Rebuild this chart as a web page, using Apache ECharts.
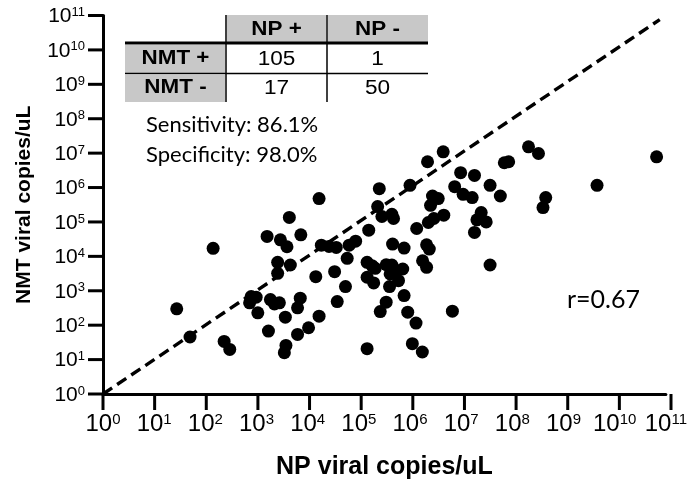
<!DOCTYPE html>
<html><head><meta charset="utf-8">
<script src="https://cdn.jsdelivr.net/npm/echarts@6/dist/echarts.min.js"></script>
<style>html,body{margin:0;padding:0;background:#fff}#c{width:690px;height:499px}</style>
</head><body><div id="c"></div>
<script>
// NP viral copies/uL (x) and NMT viral copies/uL (y)
const npValues = [
  1.67e4, 4.38e3, 1.42e2, 1.61e3, 2.93e3, 3.94e3, 7.35e3, 1.85e4, 2.61e4, 3.62e4,
  2.59e3, 4.58e3, 2.59e3, 1.44e4, 3.36e4, 5.48e4, 27.6, 7.87e2, 9.84e2, 7.33e2,
  1.06e3, 1.87e3, 2.24e3, 2.80e3, 3.66e3, 7.16e3, 6.34e3, 3.78e4, 1.67e4, 1.71e3,
  6.34e3, 1.04e4, 50.2, 2.33e2, 3.00e2, 3.76e3, 3.50e3, 2.07e8, 3.24e8, 6.59e10,
  4.45e6, 2.20e6, 6.97e7, 8.47e7, 1.00e6, 2.51e5, 9.75e6, 1.82e7, 7.46e6, 1.09e7,
  1.64e7, 3.67e7, 5.82e7, 4.52e9, 4.49e8, 3.97e8, 2.75e6, 3.56e6, 2.52e6, 4.57e6,
  2.92e6, 2.28e6, 1.35e6, 2.33e5, 2.82e5, 4.42e5, 4.76e5, 1.56e5, 2.46e7, 2.03e7,
  3.08e7, 1.82e7, 6.47e4, 8.65e4, 5.92e4, 4.56e5, 7.66e5, 2.11e6, 2.38e6, 1.76e6,
  2.11e6, 3.67e7, 1.45e5, 1.81e5, 2.09e5, 1.45e5, 1.95e5, 3.42e5, 4.42e5, 5.52e5,
  7.21e5, 4.09e5, 5.96e5, 3.98e5, 7.66e5, 3.42e5, 2.62e5, 9.02e5, 1.31e6, 6.73e6,
  1.45e5, 1.11e6, 1.74e6
];
const nmtValues = [
  4.78e5, 1.35e5, 1.71e4, 3.79e4, 3.02e4, 1.90e4, 4.22e4, 2.12e4, 1.95e4, 1.82e4,
  6.70e3, 5.60e3, 3.22e3, 2.57e3, 3.58e3, 1.32e3, 2.99e2, 6.78e2, 6.50e2, 4.45e2,
  2.29e2, 5.55e2, 4.16e2, 4.45e2, 1.71e2, 6.08e2, 3.19e2, 4.85e2, 1.83e2, 67.5,
  53.8, 84.1, 45.3, 33.7, 19.8, 25.8, 15.9, 1.53e7, 9.77e6, 7.83e6,
  1.09e7, 5.62e6, 5.26e6, 5.62e6, 1.16e6, 9.29e5, 2.70e6, 2.25e6, 1.06e6, 6.35e5,
  5.11e5, 1.16e6, 5.68e5, 1.16e6, 5.11e5, 2.62e5, 5.68e5, 4.78e5, 3.05e5, 1.57e5,
  1.26e5, 9.64e4, 6.46e4, 2.80e5, 1.44e5, 1.67e5, 1.26e5, 5.77e4, 1.88e5, 1.15e5,
  1.00e5, 4.95e4, 2.12e4, 2.77e4, 8.75e3, 2.27e4, 1.74e4, 2.17e4, 1.63e4, 7.46e3,
  4.81e3, 5.60e3, 6.70e3, 5.35e3, 4.50e3, 2.47e3, 1.69e3, 5.71e3, 5.60e3, 3.83e3,
  4.29e3, 3.08e3, 1.97e3, 1.32e3, 7.24e2, 4.67e2, 2.49e2, 2.39e2, 1.15e2, 2.56e2,
  20.7, 29.0, 16.6
];
// identity (y = x) reference line end values
const identityLine = [1, 7.6e10];
// tick values and exponents for both axes (labels 10^0 ... 10^11)
const tickValues = [1, 1e1, 1e2, 1e3, 1e4, 1e5, 1e6, 1e7, 1e8, 1e9, 1e10, 1e11];
const tickExponents = [0, 1, 2, 3, 4, 5, 6, 7, 8, 9, 10, 11];
const tickLabels = tickExponents.map(e => '{b|10}{s|' + e + '}');
const xTitle = 'NP viral copies/uL';
const yTitle = 'NMT viral copies/uL';
const tableColHeaders = ['NP +', 'NP -'];
const tableRowHeaders = ['NMT +', 'NMT -'];
const tableCounts = [[105, 1], [17, 50]];
const statLines = ['Sensitivity: 86.1%', 'Specificity: 98.0%'];
const corrLabel = 'r=0.67';

const points = npValues.map((v, i) => [v, nmtValues[i]]);
const labelFmt = v => {
  const e = Math.round(Math.log10(v));
  const idx = tickExponents.indexOf(e);
  return idx >= 0 ? tickLabels[idx] : '';
};
function richFor(big, small) {
  return {
    b: {fontFamily: 'Liberation Sans', fontSize: big, color: '#000', lineHeight: big + 2, verticalAlign: 'bottom'},
    s: {fontFamily: 'Liberation Sans', fontSize: small, color: '#000', lineHeight: small, verticalAlign: 'top', padding: [2, 0, 0, 0]}
  };
}
const G = {left: 103, right: 19, top: 15.5, bottom: 105};
const W = 690, H = 499;
const axisCommon = {
  type: 'log', logBase: 10, min: 1, max: 1e11, interval: 1,
  axisLine: {show: true, lineStyle: {color: '#000', width: 3}},
  axisTick: {show: false},
  splitLine: {show: false},
  minorTick: {show: false},
  nameLocation: 'middle',
  nameTextStyle: {fontFamily: 'Liberation Sans', fontWeight: 'bold', color: '#000'}
};

const gray = '#c8c8c8';
const tX0 = 125, tX1 = 226, tX2 = 327, tX3 = 428;
const rowY = [15, 44, 74, 102];
const hdrFont = 'bold 19.5px "Liberation Sans"';
const cellFont = '20px "Liberation Sans"';
const graphic = [
  {type: 'rect', shape: {x: tX1 + 1, y: rowY[0], width: tX2 - tX1 - 2, height: 27}, style: {fill: gray}},
  {type: 'rect', shape: {x: tX2 + 1, y: rowY[0], width: tX3 - tX2 - 1, height: 27}, style: {fill: gray}},
  {type: 'rect', shape: {x: tX0, y: rowY[1] + 1, width: tX1 - tX0 - 1, height: 28}, style: {fill: gray}},
  {type: 'rect', shape: {x: tX0, y: rowY[2] + 1, width: tX1 - tX0 - 1, height: 27}, style: {fill: gray}},
  {type: 'line', shape: {x1: tX0, y1: 43, x2: tX3, y2: 43}, style: {stroke: '#000', lineWidth: 3}},
  {type: 'line', shape: {x1: tX0, y1: 73.5, x2: tX3, y2: 73.5}, style: {stroke: '#000', lineWidth: 1.3}},
  {type: 'line', shape: {x1: tX1, y1: rowY[0], x2: tX1, y2: rowY[3]}, style: {stroke: '#000', lineWidth: 1.5}},
  {type: 'line', shape: {x1: tX2, y1: rowY[0], x2: tX2, y2: rowY[3]}, style: {stroke: '#000', lineWidth: 1.5}}
];
const colCx = [(tX1 + tX2) / 2, (tX2 + tX3) / 2];
const rowCy = [59, 88];
const ctr = {align: 'center', verticalAlign: 'middle', textAlign: 'center', textVerticalAlign: 'middle', fill: '#000'};
tableColHeaders.forEach((t, i) => graphic.push({type: 'text', x: colCx[i], y: 29.5, scaleX: 1.15,
  style: Object.assign({text: t, font: hdrFont}, ctr)}));
tableRowHeaders.forEach((t, i) => graphic.push({type: 'text', x: (tX0 + tX1) / 2, y: rowCy[i], scaleX: 1.15,
  style: Object.assign({text: t, font: hdrFont}, ctr)}));
tableCounts.forEach((row, r) => row.forEach((v, c) => graphic.push({type: 'text', x: colCx[c], y: rowCy[r], scaleX: 1.13,
  style: Object.assign({text: String(v), font: cellFont}, ctr)})));
statLines.forEach((t, i) => graphic.push({type: 'text', x: 146, y: 125 + i * 30,
  style: {text: t, font: '22px Lato', fill: '#000', align: 'left', verticalAlign: 'middle', textAlign: 'left', textVerticalAlign: 'middle'}}));
graphic.push({type: 'text', x: 567, y: 300,
  style: {text: corrLabel, font: '25px Lato', fill: '#000', align: 'left', verticalAlign: 'middle', textAlign: 'left', textVerticalAlign: 'middle'}});

// axis tick marks, placed on the grid at each decade (drawn in the same graphic layer as the table)
const xTickLen = 16, yTickLen = 15;
const gx0 = G.left, gx1 = W - G.right, gyB = H - G.bottom, gyT = G.top;
const nDec = tickExponents[tickExponents.length - 1] - tickExponents[0];
tickExponents.forEach(e => {
  const frac = (e - tickExponents[0]) / nDec;
  const tx = gx0 + frac * (gx1 - gx0);
  const ty = gyB - frac * (gyB - gyT);
  graphic.push({type: 'rect', z: 100, shape: {x: tx - 1.5, y: gyB, width: 3, height: xTickLen}, style: {fill: '#000'}});
  graphic.push({type: 'rect', z: 100, shape: {x: gx0 - yTickLen, y: ty - 1.5, width: yTickLen, height: 3}, style: {fill: '#000'}});
});

const chart = echarts.init(document.getElementById('c'), null, {renderer: 'canvas'});
chart.setOption({
  animation: false,
  backgroundColor: '#fff',
  grid: {left: G.left, right: G.right, top: G.top, bottom: G.bottom, containLabel: false},
  xAxis: Object.assign({}, axisCommon, {name: xTitle, nameGap: 61,
    nameTextStyle: Object.assign({}, axisCommon.nameTextStyle, {fontSize: 25}),
    axisLabel: {formatter: labelFmt, rich: richFor(24, 15), margin: 16, showMinLabel: true, showMaxLabel: true, hideOverlap: false}}),
  yAxis: Object.assign({}, axisCommon, {name: yTitle, nameGap: 68, nameRotate: 90,
    nameTextStyle: Object.assign({}, axisCommon.nameTextStyle, {fontSize: 21}),
    axisLabel: {formatter: labelFmt, rich: richFor(21, 13), margin: 18, showMinLabel: true, showMaxLabel: true, hideOverlap: false}}),
  series: [
    {type: 'line', data: [[identityLine[0], identityLine[0]], [identityLine[1], identityLine[1]]],
      symbol: 'none', z: 1, lineStyle: {color: '#000', width: 3.4, type: [11, 6]}},
    {type: 'scatter', data: points, symbol: 'circle', symbolSize: 13, z: 2,
      itemStyle: {color: '#000', opacity: 1}}
  ],
  graphic: graphic
});
</script></body></html>
